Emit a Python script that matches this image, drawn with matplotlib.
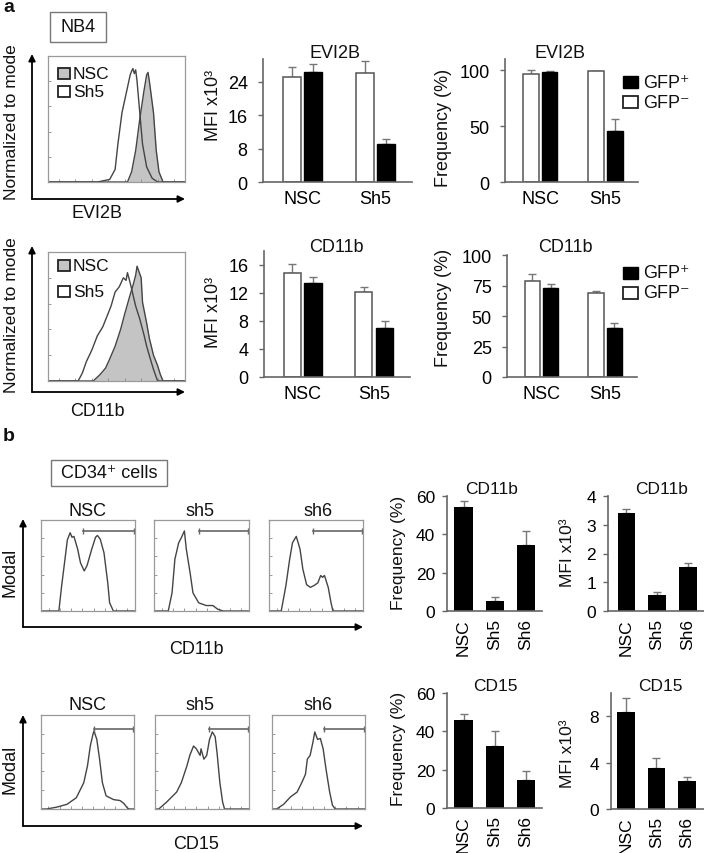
import numpy as np
import matplotlib
matplotlib.use("Agg")
import matplotlib.pyplot as plt
from matplotlib.patches import Rectangle

plt.rcParams['font.family'] = ['Liberation Sans', 'DejaVu Sans']

W, H = 704, 854
LINE = "#444444"
SPINE = "#666666"

# ---- panel a: NB4 bar data (white = GFP-, black = GFP+) ----
groups_a = ["NSC", "Sh5"]
evi2b_mfi_neg = [25.2, 26.2]
evi2b_mfi_neg_err = [2.4, 2.9]
evi2b_mfi_pos = [26.4, 9.2]
evi2b_mfi_pos_err = [2.0, 1.2]
evi2b_freq_neg = [97.0, 99.0]
evi2b_freq_neg_err = [3.0, 0.5]
evi2b_freq_pos = [98.5, 45.5]
evi2b_freq_pos_err = [0.8, 11.0]
cd11b_mfi_neg = [14.9, 12.1]
cd11b_mfi_neg_err = [1.3, 0.8]
cd11b_mfi_pos = [13.5, 7.0]
cd11b_mfi_pos_err = [0.8, 1.0]
cd11b_freq_neg = [78.5, 69.0]
cd11b_freq_neg_err = [6.0, 1.5]
cd11b_freq_pos = [73.0, 40.0]
cd11b_freq_pos_err = [3.5, 4.0]

# ---- panel a: histogram traces (x: % of axis, y: % of mode) ----
evi2b_sh5_x = [0, 36, 45, 49, 51, 54, 58, 60, 61, 62, 63, 64, 65, 67, 69, 72, 76, 80, 100]
evi2b_sh5_y = [0, 0, 2, 10, 30, 55, 75, 85, 88, 90, 86, 89, 80, 55, 30, 12, 3, 0, 0]
evi2b_nsc_x = [0, 58, 61, 64, 67, 70, 72, 73, 74, 77, 79, 81, 84, 100]
evi2b_nsc_y = [0, 0, 8, 25, 50, 72, 85, 87, 80, 55, 25, 8, 0, 0]
cd11b_a_sh5_x = [0, 22, 25, 28, 32, 36, 40, 43, 46, 49, 52, 55, 57, 58, 60, 62, 64, 67, 70, 72, 75, 77, 80, 100]
cd11b_a_sh5_y = [0, 0, 6, 15, 24, 35, 42, 50, 58, 69, 73, 80, 78, 84, 76, 67, 58, 48, 36, 27, 16, 9, 0, 0]
cd11b_a_nsc_x = [0, 33, 38, 42, 45, 49, 53, 56, 60, 62, 64, 65, 66, 68, 69, 72, 74, 77, 80, 82, 84, 100]
cd11b_a_nsc_y = [0, 0, 5, 10, 17, 27, 40, 52, 67, 74, 82, 89, 86, 80, 61, 45, 33, 20, 12, 5, 0, 0]

# ---- panel b: CD34+ bar data ----
groups_b = ["NSC", "Sh5", "Sh6"]
b_cd11b_freq = [54.3, 5.2, 34.5]
b_cd11b_freq_err = [3.1, 2.1, 7.2]
b_cd11b_mfi = [3.4, 0.56, 1.52]
b_cd11b_mfi_err = [0.15, 0.11, 0.15]
b_cd15_freq = [46.0, 32.4, 14.6]
b_cd15_freq_err = [3.0, 7.8, 4.7]
b_cd15_mfi = [8.35, 3.5, 2.4]
b_cd15_mfi_err = [1.2, 0.9, 0.4]

# ---- panel b: histogram traces ----
hist_names_b = ["NSC", "sh5", "sh6"]
cd11b_nsc_x = [0, 19, 22, 26, 28, 31, 33, 35, 39, 42, 46, 49, 54, 58, 60, 63, 67, 71, 73, 77, 100]
cd11b_nsc_y = [0, 0, 28, 61, 78, 86, 81, 82, 68, 53, 44, 50, 68, 81, 83, 79, 64, 31, 9, 0, 0]
cd11b_sh5_x = [0, 15, 19, 22, 26, 29, 32, 34, 38, 41, 47, 55, 62, 67, 73, 100]
cd11b_sh5_y = [0, 0, 20, 57, 75, 81, 88, 68, 42, 20, 9, 6, 6, 2, 0, 0]
cd11b_sh6_x = [0, 13, 18, 22, 25, 29, 33, 36, 40, 44, 48, 52, 55, 57, 59, 63, 66, 68, 100]
cd11b_sh6_y = [0, 0, 28, 57, 75, 82, 68, 46, 29, 26, 28, 31, 39, 37, 39, 26, 9, 0, 0]
cd15_nsc_x = [0, 6, 17, 28, 38, 46, 50, 53, 56, 57, 60, 63, 66, 70, 78, 85, 89, 93, 95, 100]
cd15_nsc_y = [0, 0, 2, 5, 12, 28, 46, 67, 80, 83, 74, 53, 28, 14, 10, 9, 6, 1, 0, 0]
cd15_sh5_x = [0, 4, 12, 19, 23, 28, 34, 37, 41, 44, 48, 49, 52, 55, 58, 61, 64, 66, 69, 72, 74, 100]
cd15_sh5_y = [0, 0, 7, 14, 18, 28, 46, 57, 67, 64, 57, 64, 53, 57, 74, 82, 77, 60, 28, 7, 0, 0]
cd15_sh6_x = [0, 5, 12.5, 20, 27, 32, 36, 38, 41, 44, 46, 49, 52, 55, 58, 62, 65, 68, 100]
cd15_sh6_y = [0, 0, 5, 13, 18, 28, 37, 53, 57, 71, 82, 74, 75, 64, 43, 18, 4, 0, 0]
gate_cd11b_start = [45, 47, 47]
gate_cd11b_level = 88
gate_cd15_start = [57, 57, 56]
gate_cd15_level = 85


def px_axes(fig, x0, y0, x1, y1):
    """Axes placed in figure pixel coordinates (top-left origin)."""
    return fig.add_axes([x0 / W, 1 - y1 / H, (x1 - x0) / W, (y1 - y0) / H])


def style_bar_axes(ax, fs, pad):
    for s in ("top", "right"):
        ax.spines[s].set_visible(False)
    for s in ("left", "bottom"):
        ax.spines[s].set_color(SPINE)
        ax.spines[s].set_linewidth(1.2)
    ax.tick_params(axis="y", length=3.5, width=1, color=SPINE, pad=pad, labelsize=fs)
    ax.tick_params(axis="x", length=0, labelsize=fs)


def pair_bars(ax, neg, neg_err, pos, pos_err, ylim, yticks):
    x = np.arange(len(groups_a))
    ax.bar(x - 0.145, neg, 0.24, color="white", edgecolor="#555555", lw=1.1, zorder=2)
    ax.bar(x + 0.145, pos, 0.24, color="black", edgecolor="black", lw=1, zorder=2)
    ax.errorbar(x - 0.145, neg, yerr=[np.zeros(len(neg)), neg_err], fmt="none",
                ecolor="#777777", capsize=3, elinewidth=1, zorder=1)
    ax.errorbar(x + 0.145, pos, yerr=[np.zeros(len(pos)), pos_err], fmt="none",
                ecolor="#777777", capsize=3, elinewidth=1, zorder=1)
    ax.set_xlim(-0.54, 1.5)
    ax.set_ylim(*ylim)
    ax.set_yticks(yticks)
    ax.set_xticks(x)
    ax.set_xticklabels(groups_a)
    style_bar_axes(ax, 13, 7.5)
    ax.tick_params(axis="x", pad=6)


def single_bars(ax, vals, errs, ylim, yticks, xlim):
    x = np.arange(len(groups_b))
    ax.bar(x, vals, 0.58, color="black", zorder=2)
    ax.errorbar(x, vals, yerr=[np.zeros(len(vals)), errs], fmt="none",
                ecolor="#777777", capsize=3, elinewidth=1, zorder=1)
    ax.set_xlim(*xlim)
    ax.set_ylim(*ylim)
    ax.set_yticks(yticks)
    ax.set_xticks(x)
    ax.set_xticklabels(groups_b, rotation=90)
    style_bar_axes(ax, 12.5, 5)
    ax.tick_params(axis="x", pad=5)


def hist_box(ax):
    ax.set_xlim(0, 100)
    ax.set_ylim(0, 100)
    for s in ax.spines.values():
        s.set_color("#999999")
        s.set_linewidth(0.9)
    ax.set_xticks([8, 20, 32, 44, 56, 68, 80, 92])
    ax.set_yticks([20, 40, 60, 80])
    ax.tick_params(direction="in", length=2, width=0.6, color="#888888",
                   labelbottom=False, labelleft=False)


fig = plt.figure(figsize=(W / 100, H / 100), dpi=100)

# ---- panel a histograms ----
ax = px_axes(fig, 48, 57, 185, 183)
hist_box(ax)
ax.fill_between(evi2b_nsc_x, evi2b_nsc_y, color="#c4c4c4", lw=0)
ax.plot(evi2b_sh5_x, evi2b_sh5_y, color=LINE, lw=1)
ax.plot(evi2b_nsc_x, evi2b_nsc_y, color=LINE, lw=1)

ax = px_axes(fig, 48, 253, 185, 382)
hist_box(ax)
ax.fill_between(cd11b_a_nsc_x, cd11b_a_nsc_y, color="#c4c4c4", lw=0)
ax.plot(cd11b_a_sh5_x, cd11b_a_sh5_y, color=LINE, lw=1)
ax.plot(cd11b_a_nsc_x, cd11b_a_nsc_y, color=LINE, lw=1)

# ---- panel a bar charts ----
ax = px_axes(fig, 263, 60, 412, 183)
pair_bars(ax, evi2b_mfi_neg, evi2b_mfi_neg_err, evi2b_mfi_pos, evi2b_mfi_pos_err,
          (0, 29.5), [0, 8, 16, 24])
ax = px_axes(fig, 505, 60, 638, 183)
pair_bars(ax, evi2b_freq_neg, evi2b_freq_neg_err, evi2b_freq_pos, evi2b_freq_pos_err,
          (0, 110), [0, 50, 100])
ax = px_axes(fig, 264, 252, 410, 378)
pair_bars(ax, cd11b_mfi_neg, cd11b_mfi_neg_err, cd11b_mfi_pos, cd11b_mfi_pos_err,
          (0, 18), [0, 4, 8, 12, 16])
ax = px_axes(fig, 507, 256, 637, 378)
pair_bars(ax, cd11b_freq_neg, cd11b_freq_neg_err, cd11b_freq_pos, cd11b_freq_pos_err,
          (0, 100), [0, 25, 50, 75, 100])

# ---- panel b histograms ----
boxes_cd11b = [(41, 135), (154, 249), (269, 363)]
boxes_cd15 = [(41, 134), (155, 249), (272, 365)]
traces_cd11b = [(cd11b_nsc_x, cd11b_nsc_y), (cd11b_sh5_x, cd11b_sh5_y), (cd11b_sh6_x, cd11b_sh6_y)]
traces_cd15 = [(cd15_nsc_x, cd15_nsc_y), (cd15_sh5_x, cd15_sh5_y), (cd15_sh6_x, cd15_sh6_y)]
for (x0, x1), (hx, hy), g in zip(boxes_cd11b, traces_cd11b, gate_cd11b_start):
    ax = px_axes(fig, x0, 521, x1, 612)
    hist_box(ax)
    ax.plot(hx, hy, color=LINE, lw=1)
    ax.plot([g, 99], [gate_cd11b_level] * 2, color="#666666", lw=1.2, marker="|", ms=4)
for (x0, x1), (hx, hy), g in zip(boxes_cd15, traces_cd15, gate_cd15_start):
    ax = px_axes(fig, x0, 716, x1, 810)
    hist_box(ax)
    ax.plot(hx, hy, color=LINE, lw=1)
    ax.plot([g, 99], [gate_cd15_level] * 2, color="#666666", lw=1.2, marker="|", ms=4)

# ---- panel b bar charts ----
ax = px_axes(fig, 447, 497, 542, 612)
single_bars(ax, b_cd11b_freq, b_cd11b_freq_err, (0, 60), [0, 20, 40, 60], (-0.53, 2.51))
ax = px_axes(fig, 608, 497, 704, 612)
single_bars(ax, b_cd11b_mfi, b_cd11b_mfi_err, (0, 4), [0, 1, 2, 3, 4], (-0.6, 2.53))
ax = px_axes(fig, 447, 694, 542, 809)
single_bars(ax, b_cd15_freq, b_cd15_freq_err, (0, 60), [0, 20, 40, 60], (-0.53, 2.51))
ax = px_axes(fig, 611, 694, 704, 810)
single_bars(ax, b_cd15_mfi, b_cd15_mfi_err, (0, 10), [0, 4, 8], (-0.48, 2.55))

# ---- overlay: labels, boxes, arrows, legends ----
ov = fig.add_axes([0, 0, 1, 1])
ov.set_xlim(0, W)
ov.set_ylim(H, 0)
ov.axis("off")
ov.patch.set_alpha(0)


def txt(x, y, s, fs=13, rot=0, **kw):
    ov.text(x, y, s, fontsize=fs, rotation=rot, ha=kw.pop("ha", "center"),
            va=kw.pop("va", "center"), color="#111111", **kw)


def arrow(x0, y0, x1, y1):
    ov.annotate("", xy=(x1, y1), xytext=(x0, y0),
                arrowprops=dict(arrowstyle="-|>", color="black", lw=1.3,
                                mutation_scale=10, shrinkA=0, shrinkB=0))


txt(3, 8, "a", fs=14, ha="left", weight="bold")
txt(3, 437, "b", fs=14, ha="left", weight="bold")

ov.add_patch(Rectangle((50, 13), 56, 30, fill=False, ec="#777777", lw=1))
txt(78, 28, "NB4")
ov.add_patch(Rectangle((51, 461), 116, 26, fill=False, ec="#777777", lw=1))
txt(109, 474, "CD34⁺ cells")

# panel a histogram axes
for yb, yt, lab, ly in [(200, 55, "EVI2B", 213), (393, 247, "CD11b", 412)]:
    arrow(32, yb, 32, yt)
    arrow(32, yb, 185, yb)
    txt(97, ly, lab)
txt(12, 122, "Normalized to mode", fs=12.5, rot=90)
txt(12, 315, "Normalized to mode", fs=12.5, rot=90)

for ys in [(69, 87), (261, 287)]:
    ov.add_patch(Rectangle((58, ys[0]), 12, 11, fc="#c4c4c4", ec="#222222", lw=1.3))
    ov.add_patch(Rectangle((58, ys[1]), 12, 11, fc="white", ec="#222222", lw=1.3))
    txt(73, ys[0] + 5.5, "NSC", fs=12.5, ha="left")
    txt(73, ys[1] + 5.5, "Sh5", fs=12.5, ha="left")

# panel a bar titles / labels
txt(335, 54, "EVI2B")
txt(560, 54, "EVI2B")
txt(336, 247, "CD11b")
txt(565, 247, "CD11b")
txt(213, 105, "MFI x10³", rot=90)
txt(213, 312, "MFI x10³", rot=90)
txt(443, 128, "Frequency (%)", rot=90)
txt(443, 308, "Frequency (%)", rot=90)

for yp, yn in [(77, 97), (268, 288)]:
    ov.add_patch(Rectangle((623, yp), 15, 12, fc="black", ec="black", lw=1))
    ov.add_patch(Rectangle((623, yn), 15, 12, fc="white", ec="#222222", lw=1.3))
    txt(643, yp + 6, "GFP⁺", ha="left")
    txt(643, yn + 6, "GFP⁻", ha="left")

# panel b histogram axes
for yb, yt, lab, ly, ty in [(628, 520, "CD11b", 650, 512), (827, 716, "CD15", 845, 706)]:
    arrow(23, yb, 23, yt)
    arrow(23, yb, 363, yb)
    txt(196, ly, lab)
    txt(10, (yb + yt) / 2 - 2, "Modal", rot=90)
    for xc, name in zip([88, 200, 318], hist_names_b):
        txt(xc, ty, name)

# panel b bar titles / labels
txt(492, 490, "CD11b", fs=12.5)
txt(662, 490, "CD11b", fs=12.5)
txt(495, 687, "CD15", fs=12.5)
txt(660, 687, "CD15", fs=12.5)
txt(398, 553, "Frequency (%)", fs=12.5, rot=90)
txt(398, 749, "Frequency (%)", fs=12.5, rot=90)
txt(567, 553, "MFI x10³", fs=12.5, rot=90)
txt(567, 754, "MFI x10³", fs=12.5, rot=90)

fig.savefig("out.png", dpi=100)
plt.close(fig)
